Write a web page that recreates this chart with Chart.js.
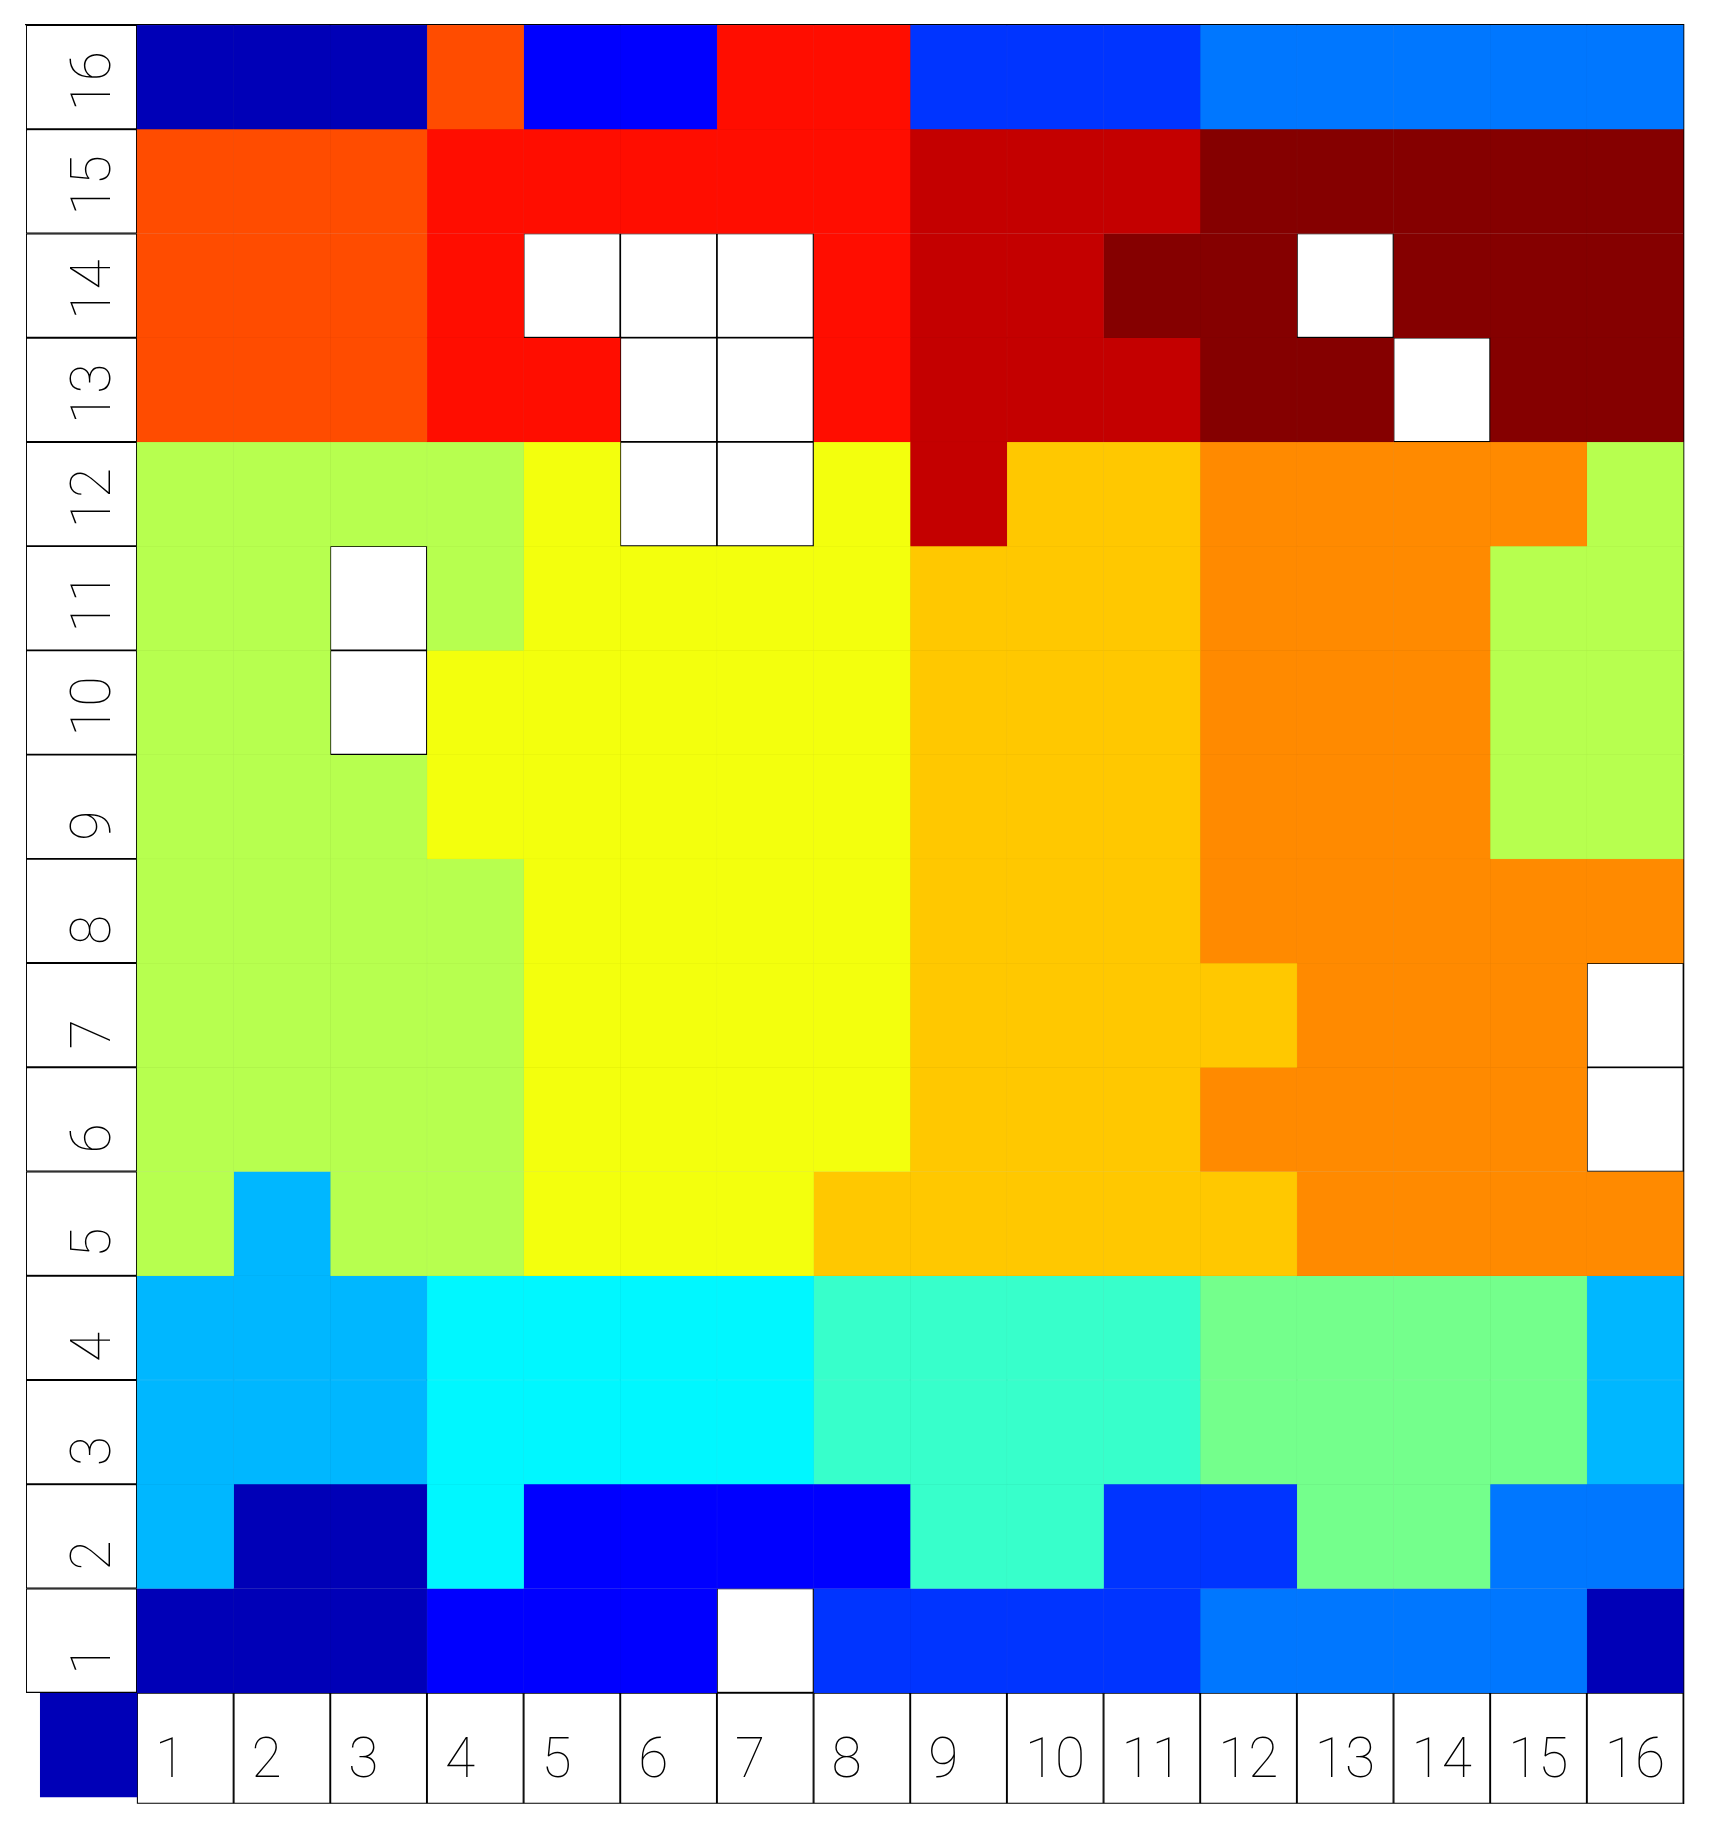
<!DOCTYPE html>
<html>
    <head>
        <title>Grid levels</title>
        <script src="https://cdn.jsdelivr.net/npm/chart.js@4.4.1/dist/chart.umd.min.js"></script>
        <style>
            body { margin: 0; background: #ffffff; }
        </style>
    </head>
    <body>
        <canvas id="gridCanvas" width="1709" height="1830"></canvas>
        <script type="text/javascript">
            // colours for levels 1..16 (level 0 = empty cell, drawn white)
            const levelColours = ['#0000B7', '#0000FF', '#0034FF', '#0077FF', '#00B7FF', '#00F7FF', '#37FFCB', '#74FF8C',
                                  '#B7FF4F', '#F3FF0D', '#FFC800', '#FF8A00', '#FF4C00', '#FF0D00', '#C40000', '#850000'];

            const columnLabels = ['1', '2', '3', '4', '5', '6', '7', '8', '9', '10', '11', '12', '13', '14', '15', '16'];
            const rowLabels = ['1', '2', '3', '4', '5', '6', '7', '8', '9', '10', '11', '12', '13', '14', '15', '16'];

            // level of every cell, one list per row, columns 1..16
            const row16 = [1, 1, 1, 13, 2, 2, 14, 14, 3, 3, 3, 4, 4, 4, 4, 4];
            const row15 = [13, 13, 13, 14, 14, 14, 14, 14, 15, 15, 15, 16, 16, 16, 16, 16];
            const row14 = [13, 13, 13, 14, 0, 0, 0, 14, 15, 15, 16, 16, 0, 16, 16, 16];
            const row13 = [13, 13, 13, 14, 14, 0, 0, 14, 15, 15, 15, 16, 16, 0, 16, 16];
            const row12 = [9, 9, 9, 9, 10, 0, 0, 10, 15, 11, 11, 12, 12, 12, 12, 9];
            const row11 = [9, 9, 0, 9, 10, 10, 10, 10, 11, 11, 11, 12, 12, 12, 9, 9];
            const row10 = [9, 9, 0, 10, 10, 10, 10, 10, 11, 11, 11, 12, 12, 12, 9, 9];
            const row9 = [9, 9, 9, 10, 10, 10, 10, 10, 11, 11, 11, 12, 12, 12, 9, 9];
            const row8 = [9, 9, 9, 9, 10, 10, 10, 10, 11, 11, 11, 12, 12, 12, 12, 12];
            const row7 = [9, 9, 9, 9, 10, 10, 10, 10, 11, 11, 11, 11, 12, 12, 12, 0];
            const row6 = [9, 9, 9, 9, 10, 10, 10, 10, 11, 11, 11, 12, 12, 12, 12, 0];
            const row5 = [9, 5, 9, 9, 10, 10, 10, 11, 11, 11, 11, 11, 12, 12, 12, 12];
            const row4 = [5, 5, 5, 6, 6, 6, 6, 7, 7, 7, 7, 8, 8, 8, 8, 5];
            const row3 = [5, 5, 5, 6, 6, 6, 6, 7, 7, 7, 7, 8, 8, 8, 8, 5];
            const row2 = [5, 1, 1, 6, 2, 2, 2, 2, 7, 7, 3, 3, 8, 8, 4, 4];
            const row1 = [1, 1, 1, 2, 2, 2, 0, 3, 3, 3, 3, 4, 4, 4, 4, 1];

            // level of the lone square under the row labels
            const cornerLevel = 1;

            const rows = [row1, row2, row3, row4, row5, row6, row7, row8,
                          row9, row10, row11, row12, row13, row14, row15, row16];

            // label strip sizes, in cell units
            const X_MIN = -1.148;
            const Y_MIN = -1.065;
            const N = columnLabels.length;

            // slightly darker edge for coloured cells
            const darker = hex => {
                const n = parseInt(hex.slice(1), 16);
                const f = v => Math.round(v * 0.94);
                return `rgb(${f(n >> 16)}, ${f((n >> 8) & 255)}, ${f(n & 255)})`;
            };

            const integerTicks = scale => {
                const t = [];
                for (let i = 0; i <= N; i++) t.push({value: i});
                scale.ticks = t;
            };

            const datasets = [];

            // one dataset per column, every cell a floating bar [col-1, col]
            for (let c = 1; c <= N; c++) {
                const lv = rows.map(r => r[c - 1]);
                datasets.push({
                    indexAxis: 'y',
                    xAxisID: 'x',
                    yAxisID: 'y',
                    grouped: false,
                    data: rows.map((r, i) => ({y: i + 0.5, x: [c - 1, c]})),
                    backgroundColor: lv.map(v => v ? levelColours[v - 1] : '#ffffff'),
                    borderColor: lv.map(v => v ? darker(levelColours[v - 1]) : '#000000'),
                    borderWidth: lv.map(v => v ? 0.5 : 1.2),
                    borderSkipped: false,
                    categoryPercentage: 1,
                    barPercentage: 1
                });
            }

            // row label boxes on the left
            datasets.push({
                indexAxis: 'y',
                xAxisID: 'x',
                yAxisID: 'y',
                grouped: false,
                data: rowLabels.map((t, i) => ({y: i + 0.5, x: [X_MIN, 0]})),
                backgroundColor: '#ffffff',
                borderColor: '#000000',
                borderWidth: 1.3,
                borderSkipped: false,
                categoryPercentage: 1,
                barPercentage: 1
            });

            // corner square
            datasets.push({
                indexAxis: 'y',
                xAxisID: 'x',
                yAxisID: 'y',
                grouped: false,
                data: [{y: -0.5, x: [-1, 0]}],
                backgroundColor: levelColours[cornerLevel - 1],
                borderWidth: 0,
                categoryPercentage: 1,
                barPercentage: 1
            });

            // column label boxes along the bottom
            datasets.push({
                indexAxis: 'x',
                xAxisID: 'xb',
                yAxisID: 'yb',
                grouped: false,
                data: columnLabels.map((t, i) => ({x: i + 0.5, y: [Y_MIN, 0]})),
                backgroundColor: '#ffffff',
                borderColor: '#000000',
                borderWidth: 1.3,
                borderSkipped: false,
                categoryPercentage: 1,
                barPercentage: 1
            });

            // writes the numbers into the label boxes
            const labelText = {
                id: 'labelText',
                afterDatasetsDraw(chart) {
                    const {ctx} = chart;
                    const x = chart.scales.x;
                    const y = chart.scales.y;
                    ctx.save();
                    ctx.fillStyle = '#000000';
                    ctx.font = '100 55px Roboto';
                    ctx.textAlign = 'left';
                    ctx.textBaseline = 'alphabetic';
                    columnLabels.forEach((t, i) => {
                        ctx.fillText(t, x.getPixelForValue(i) + 18, y.getPixelForValue(0) + 84);
                    });
                    rowLabels.forEach((t, i) => {
                        ctx.save();
                        ctx.translate(x.getPixelForValue(X_MIN) + 84, y.getPixelForValue(i) - 18);
                        ctx.rotate(-Math.PI / 2);
                        ctx.fillText(t, 0, 0);
                        ctx.restore();
                    });
                    ctx.restore();
                }
            };

            // scale settings; the top and right ones also draw the outer frame line
            const gridAxis = (min, pos) => ({
                type: 'linear',
                display: !!pos,
                position: pos || undefined,
                min: min,
                max: N,
                offset: false,
                grid: {display: false, drawTicks: false, offset: false},
                ticks: {display: false},
                border: {display: true, color: '#000000', width: 1.3},
                afterBuildTicks: integerTicks
            });

            new Chart(document.getElementById('gridCanvas').getContext('2d'), {
                type: 'bar',
                data: {datasets: datasets},
                options: {
                    responsive: false,
                    animation: false,
                    events: [],
                    layout: {padding: {left: 26, right: 25.5, top: 25, bottom: 26.3}},
                    plugins: {legend: {display: false}, tooltip: {enabled: false}},
                    scales: {
                        x: gridAxis(X_MIN, 'top'),
                        y: gridAxis(Y_MIN, 'right'),
                        xb: gridAxis(X_MIN),
                        yb: gridAxis(Y_MIN)
                    }
                },
                plugins: [labelText]
            });
        </script>
    </body>
</html>
